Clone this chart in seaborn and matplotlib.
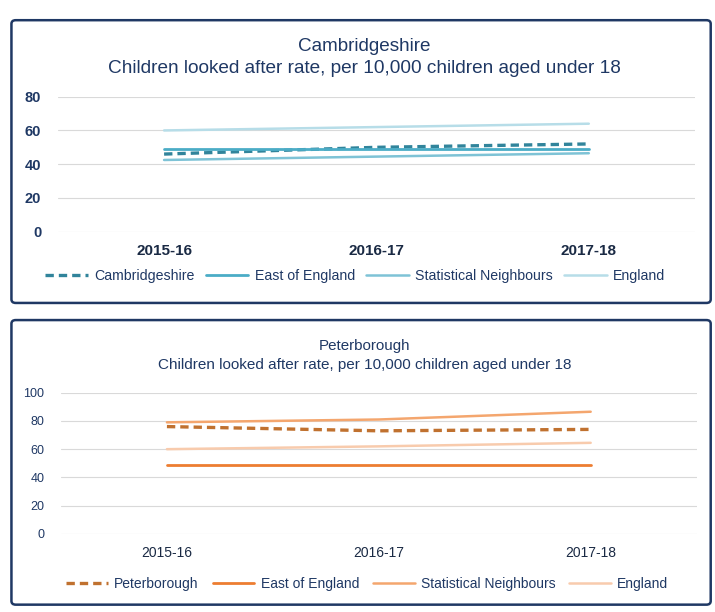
import pandas as pd
import seaborn as sns
import matplotlib.pyplot as plt
from matplotlib.patches import FancyBboxPatch

years = ["2015-16", "2016-17", "2017-18"]

# Cambridgeshire panel
cambs = [46, 50, 52]
cambs_east = [49, 49, 49]
cambs_stat = [42.5, 44.5, 46.5]
cambs_england = [60, 62, 64]

# Peterborough panel
pboro = [76, 73, 74]
pboro_east = [48.5, 48.5, 48.5]
pboro_stat = [79, 81, 86.5]
pboro_england = [60, 62, 64.5]

sns.set_style("white")
plt.rcParams['font.family'] = ['Liberation Sans', 'DejaVu Sans']

navy = '#1F3864'
grid_col = '#D9D9D9'

fig = plt.figure(figsize=(7.15, 6.12), dpi=100)

# panel frames
for y0, h in [(0.505, 0.462), (0.012, 0.465)]:
    fig.patches.append(FancyBboxPatch((0.016, y0), 0.978, h, boxstyle="round,pad=0,rounding_size=0.006",
                                      transform=fig.transFigure, fill=False, edgecolor=navy, linewidth=1.8))


def draw_panel(ax, series, ymax, tick_size, xtick_size, weight, leg_size, legend_x, legend_y, colspace):
    for name, vals, color, lw, ls in series:
        sns.lineplot(x=years, y=vals, ax=ax, color=color, linewidth=lw, linestyle=ls, label=name)
    ax.set_xlim(-0.5, 2.5)
    ax.set_ylim(0, ymax)
    ax.set_yticks(range(0, ymax + 1, 20))
    ax.set_xlabel("")
    ax.set_ylabel("")
    ax.grid(axis='y', color=grid_col, linewidth=0.8)
    ax.set_axisbelow(True)
    sns.despine(ax=ax, left=True, bottom=True)
    ax.tick_params(axis='y', colors=navy, labelsize=tick_size, length=0, pad=12)
    ax.tick_params(axis='x', colors='#1a2a44', labelsize=xtick_size, length=0, pad=9)
    for lab in ax.get_xticklabels() + ax.get_yticklabels():
        lab.set_fontweight(weight)
    ax.legend(ncol=4, loc='upper center', bbox_to_anchor=(legend_x, legend_y), frameon=False,
              fontsize=leg_size, labelcolor=navy, handlelength=3.0, handletextpad=0.45,
              columnspacing=colspace)


ax1 = fig.add_axes([0.081, 0.6214, 0.891, 0.2206])
draw_panel(ax1, [
    ("Cambridgeshire", cambs, '#31849B', 2.4, (0, (2.5, 1.5))),
    ("East of England", cambs_east, '#4BACC6', 2.0, '-'),
    ("Statistical Neighbours", cambs_stat, '#7EC3D6', 1.8, '-'),
    ("England", cambs_england, '#B7DDE8', 1.8, '-'),
], 80, 10.5, 11, 'bold', 10.2, 0.467, -0.18, 0.8)
fig.text(0.51, 0.924, "Cambridgeshire", ha='center', va='center', color=navy, fontsize=13.6)
fig.text(0.51, 0.888, "Children looked after rate, per 10,000 children aged under 18",
         ha='center', va='center', color=navy, fontsize=13.7)

ax2 = fig.add_axes([0.0853, 0.1275, 0.889, 0.2309])
draw_panel(ax2, [
    ("Peterborough", pboro, '#C0712F', 2.4, (0, (2.5, 1.5))),
    ("East of England", pboro_east, '#ED7D31', 2.0, '-'),
    ("Statistical Neighbours", pboro_stat, '#F4A66E', 1.8, '-'),
    ("England", pboro_england, '#F8CBAD', 1.8, '-'),
], 100, 9, 10, 'normal', 10, 0.482, -0.215, 1.0)
fig.text(0.51, 0.435, "Peterborough", ha='center', va='center', color=navy, fontsize=10.9)
fig.text(0.51, 0.404, "Children looked after rate, per 10,000 children aged under 18",
         ha='center', va='center', color=navy, fontsize=11)

fig.savefig("out.png", dpi=100)
